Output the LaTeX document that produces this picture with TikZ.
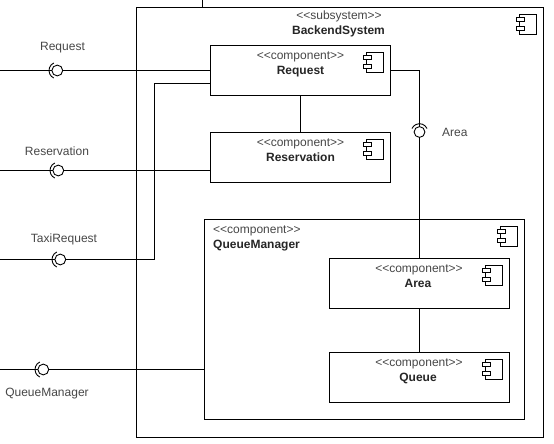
\documentclass[tikz,border=0pt]{standalone}
\usepackage{fontspec}
\setmainfont{Liberation Sans}
\newcommand{\compicon}[1]{%
  \draw[iconline] ([shift={(-24,7)}]#1.north east) rectangle ([shift={(-7,27)}]#1.north east);
  \draw[iconline,fill=white] ([shift={(-27.5,10.2)}]#1.north east) rectangle ([shift={(-19,14.4)}]#1.north east);
  \draw[iconline,fill=white] ([shift={(-27.5,18.8)}]#1.north east) rectangle ([shift={(-19,23)}]#1.north east);
}
\newcommand{\leftsocket}[1]{%
  \draw[conn] ([shift={(115:8.3pt)}]#1.center) arc[start angle=115,end angle=245,radius=8.3pt];
}
\newcommand{\topsocket}[1]{%
  \draw[conn] ([shift={(25:8.3pt)}]#1.center) arc[start angle=25,end angle=155,radius=8.3pt];
}
\begin{document}
\begin{tikzpicture}[x=1pt,y=-1pt,
  conn/.style={draw=black,line width=0.9pt},
  iconline/.style={draw=black,line width=0.9pt},
  box/.style={draw=black,line width=0.9pt,fill=white,inner sep=0pt,outer sep=0pt,rectangle,anchor=north west},
  ball/.style={draw=black,line width=0.9pt,fill=white,circle,inner sep=0pt,outer sep=0pt,minimum size=10.8pt},
  stereo/.style={font=\fontsize{12}{14}\selectfont,text=black!72,inner sep=0pt,anchor=base},
  cname/.style={font=\fontsize{12}{14}\selectfont\bfseries,text=black!85,inner sep=0pt,anchor=base},
  lbl/.style={font=\fontsize{12}{14}\selectfont,text=black!72,inner sep=0pt,anchor=base}]
\useasboundingbox (0,0) rectangle (554,444);
\fill[white] (0,0) rectangle (554,444);
% containers
\node[box,minimum width=407pt,minimum height=430pt] (sys) at (136.5,7.5) {};
\node[box,minimum width=180pt,minimum height=50pt] (req) at (210.5,45.5) {};
\node[box,minimum width=180pt,minimum height=50pt] (res) at (210.5,132.5) {};
\node[box,minimum width=320pt,minimum height=200pt] (qm) at (204.5,219.5) {};
\node[box,minimum width=180pt,minimum height=50pt] (area) at (329.5,258.5) {};
\node[box,minimum width=180pt,minimum height=50pt] (queue) at (329.5,352.5) {};
% free ends and bends
\coordinate (top) at (202.5,0);
\coordinate (e1) at (0,70.5);
\coordinate (e2) at (0,170.5);
\coordinate (e3) at (0,259.5);
\coordinate (e4) at (0,369.5);
\coordinate (b1) at (154.5,259.5);
\coordinate (b2) at (154.5,83.5);
\coordinate (b3) at (210.5,83.5);
\coordinate (b4) at (419.5,70.5);
% sockets
\node[ball] (s1) at (57.3,70.5) {};
\node[ball] (s2) at (58.3,170.5) {};
\node[ball] (s3) at (60.3,259.5) {};
\node[ball] (s4) at (43.3,369.5) {};
\node[ball] (s5) at (419.5,132) {};
% connectors
\draw[conn] (top) -- (top |- sys.north);
\draw[conn] (e1) -- (s1.west) (s1.east) -- (s1.east -| req.west);
\draw[conn] (e2) -- (s2.west) (s2.east) -- (s2.east -| res.west);
\draw[conn] (e3) -- (s3.west) (s3.east) -- (b1) -- (b2) -- (b3);
\draw[conn] (e4) -- (s4.west) (s4.east) -- (s4.east -| qm.west);
\draw[conn] (req.east |- b4) -- (b4) -- (s5.north);
\draw[conn] (s5.south) -- (s5.south |- area.north);
\draw[conn] (req.south) -- (res.north);
\draw[conn] (area.south) -- (queue.north);
\leftsocket{s1}\leftsocket{s2}\leftsocket{s3}\leftsocket{s4}\topsocket{s5}
% icons
\compicon{sys}\compicon{req}\compicon{res}\compicon{qm}\compicon{area}\compicon{queue}
% box text
\node[stereo] (t0) at (339,19.3) {<{}<subsystem>{}>};
\node[cname] (t0b) at (338.5,34.3) {BackendSystem};
\node[stereo] (t1) at (300.5,59.2) {<{}<component>{}>};
\node[cname] (t1b) at (300.5,74.3) {Request};
\node[stereo] (t2) at (300.5,146.7) {<{}<component>{}>};
\node[cname] (t2b) at (300.5,161.3) {Reservation};
\node[stereo,anchor=base west] (t3) at (213,233.2) {<{}<component>{}>};
\node[cname,anchor=base west] (t3b) at (213,248.2) {QueueManager};
\node[stereo] (t4) at (419,272.5) {<{}<component>{}>};
\node[cname] (t4b) at (418,287) {Area};
\node[stereo] (t5) at (419,366) {<{}<component>{}>};
\node[cname] (t5b) at (418,381) {Queue};
% outer labels
\node[lbl] (l1) at (62.5,50.5) {Request};
\node[lbl] (l2) at (57,155) {Reservation};
\node[lbl] (l3) at (64,242.8) {TaxiRequest};
\node[lbl] (l4) at (47,396.7) {QueueManager};
\node[lbl] (l5) at (454.8,136) {Area};
\end{tikzpicture}
\end{document}
